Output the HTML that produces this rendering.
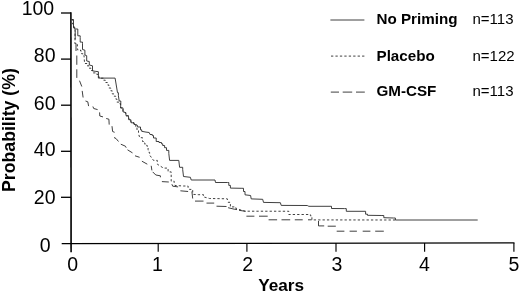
<!DOCTYPE html>
<html><head><meta charset="utf-8"><title>Probability vs Years</title>
<style>
html,body{margin:0;padding:0;background:#fff;}
body{width:520px;height:293px;position:relative;overflow:hidden;font-family:"Liberation Sans",Arial,sans-serif;color:#000;}
.t{position:absolute;white-space:nowrap;line-height:1;}
.yl{font-size:19.5px;text-align:right;width:60px;left:-4.5px;}
.xl{font-size:19.5px;text-align:center;width:40px;}
.lg{font-size:15.2px;font-weight:bold;left:376.5px;}
.n{font-size:15px;left:472.5px;}
</style></head><body>
<svg width="520" height="293" viewBox="0 0 520 293" style="position:absolute;left:0;top:0">
<g stroke="#000" stroke-width="1.3" fill="none" shape-rendering="auto">
<path d="M70.9,12.3 L71.1,252.2" stroke-width="1.6"/>
<path d="M61.7,243.6 L514.5,242.95"/>
<path d="M158.2,243 V251.8" stroke-width="1.15"/>
<path d="M246.9,243 V251.8" stroke-width="1.15"/>
<path d="M336,243 V251.8" stroke-width="1.15"/>
<path d="M424.6,243 V251.8" stroke-width="1.15"/>
<path d="M513.9,243 V251.8" stroke-width="1.15"/>
<path d="M61,13 H71"/>
<path d="M61,59.1 H71"/>
<path d="M61,105.2 H71"/>
<path d="M61,151.3 H71"/>
<path d="M61,197.3 H71"/>
</g>
<g stroke="#2a2a2a" stroke-width="0.9" fill="none" stroke-linejoin="miter">
<polyline points="71.5,19.5 73.5,19.5 73.5,27 74.7,27 74.7,29 77.8,29 77.8,30 77.8,35.8 80.2,35.8 80.2,37.4 80.2,42.1 82.5,42.1 82.5,43.7 82.5,49.5 84.9,50.2 84.9,55 86.7,55.7 86.7,61 89.3,61.5 89.3,65 92.5,65.8 92.5,70.9 95.2,71.3 98.4,71.7 98.4,78.1 115.1,78.1 117.5,92.7 118.4,92.7 118.4,95.8 119.2,101 120.8,101 120.8,102.1 120.6,107.9 123,107.9 123,109.1 123,111.8 125.7,112.6 126.1,115.8 128.5,115.8 128.5,116.9 128.9,119.7 130.8,119.7 130.8,120.9 131.2,122.8 134,122.8 134,124.4 137.1,125 137.8,127 140.5,127 140.5,129.8 141.7,129.8 141.7,131.3 146,132.1 149.2,132.5 150,134.5 152.3,134.5 152.3,135.6 153.5,135.6 153.5,138 156.2,138 156.2,141.5 159,141.5 159,142.5 161.5,142.5 161.5,143.8 162.7,143.8 162.7,145.5 164.6,145.5 164.6,147.7 166.5,147.7 166.5,150.4 168.8,150.4 168.8,153.5 169.6,160.4 178.8,160.4 179.6,167.3 182.7,167.3 182.7,169.6 183.5,176.5 190.4,177.3 191.2,180 215,180 215.5,182.5 227.5,182.5 228.8,182.5 228.8,185.4 230.4,185.4 230.4,188.1 241.9,188.3 243.5,188.3 243.5,191.5 245,191.5 245,194.8 250.6,195.5 251.2,198.9 262.7,199.3 263.5,202.4 280.4,202.7 281.2,205.4 307.3,205.5 308.8,206.3 330,206.3 331.5,206.3 331.5,208.5 344.4,208.6 346.3,208.6 346.3,211.3 364,211.3 365.6,211.3 365.6,214.2 367.5,214.2 367.5,215.3 381.9,215.5 383.8,215.5 383.8,217.7 393.5,218 395.4,218 395.4,220 477.7,220"/>
<polyline points="71.5,19.5 72.6,19.5 72.6,24 73.6,24 73.6,28 75,28 75,30.4 75,40.5 74.7,43.3 77.4,43.3 77.4,44.5 77.4,49.8 80.5,49.8 80.5,51 81.7,51 81.7,53.8 84,53.8 84,55.7 84.6,63.5 87,63.5 87,65.8 89,65.8 89,68.2 91,68.2 91,70.5 92.9,70.5 92.9,72.9 96.8,72.9 96.8,74.4 98.4,74.4 98.4,77.2 100.2,77.2 100.2,78.2 103.7,78.2 103.7,80.2 105.3,80.2 105.3,82.5 107.3,82.5 107.3,84.9 108.8,84.9 108.8,88 110.8,88 110.8,90.8 112.2,90.8 112.2,93.9 114.1,93.9 114.1,96.2 115.7,96.2 115.7,99 116.9,99 116.9,102.1 119.6,102.1 119.6,103.7 120.6,103.7 120.6,107.9 123,107.9 123,109.1 123,111.8 125.7,112.6 126.1,115.8 128.5,115.8 128.5,116.9 128.9,119.7 130.8,119.7 130.8,120.9 131.2,122.8 134,122.8 134,124.4 135.8,124.4 135.8,126.6 137,126.6 137,130.2 138.5,130.2 138.5,132.3 139.2,136.4 140.8,136.4 140.8,137.7 142.5,137.7 142.5,141.5 143.8,141.5 143.8,143.1 145,143.1 145,145 146.9,145 146.9,146.2 148.1,146.2 148.1,149.6 148.6,152.3 149.6,152.3 149.6,155 153.5,160.4 157.3,160.4 157.3,164.2 163.5,168.1 168.1,168.1 168.1,171.9 171.2,171.9 171.2,175 171.2,181.2 174.2,181.2 174.2,182.7 175,185.5 183.5,186 188.1,186 188.1,188.8 189.6,189.4 192.7,189.4 192.7,193.1 193.5,194.4 198.8,194.7 203.5,194.7 203.5,196.9 209.6,198.5 227.3,198.8 228.1,202.3 230.4,202.3 230.4,206.9 235.8,206.9 235.8,208.5 241.9,210.3 245,211.2 288.75,211.25 288.75,214.5 308.75,214.5 310.4,214.5 310.4,215.8 311.9,215.8 311.9,219.9 395.4,220" stroke-dasharray="2.3 2.1"/>
<path d="M75.2,30.2 L75.2,39.4 M76,43.5 L76,51 M76.8,55.5 L76.8,64.8 M76.8,69.3 L76.8,77.9 M79.5,80.7 L81.8,86.5 M82.2,90.9 L83.1,97.5 M85.5,101 L87.8,101.8 L88.6,106.1 M92.9,106.5 L93.7,108.5 L97.6,109.6 M99.6,112.4 L99.8,116 L103,116.9 M106.2,118.5 L108.9,119.2 L109.2,124.6 M112,126.2 L112.6,131.5 L114.6,132.3 M114,137.5 L116,138.5 L118.5,141.5 M120.8,144.2 L125.4,146.2 L126.2,147.7 M127.5,149.8 L132.5,152.9 M135,155.8 L139.6,157.3 M141.9,161.2 L147.3,164.2 M151.2,165.8 L151.9,170.4 M152.7,171.9 L155.8,175 L160.4,175.8 L160.4,177.3 M161.9,181.6 L168.8,182 M171.9,184.2 L172.7,186.2 L178.1,186.9 M180.4,190.8 L188.1,191.5 M191.9,191.5 L192.7,198.5 M195,201.1 L203.5,201.1 M206.5,203.1 L214.2,203.1 M216.5,206.2 L226.5,206.5 M228.1,207.7 L234.2,209.2 L237,209.6 M239,210.3 L245.5,211.3 M246.4,216.2 L254.4,216.2 M259,216.2 L267.7,216.2 M268.6,219.8 L277.1,219.8 M281.5,219.8 L290.2,219.8 M294.8,219.8 L302.7,219.8 M308,219.8 L311.7,219.8 M318.5,221 L318.5,225.9 L324.2,225.9 M327.7,226.2 L335.8,226.2 M336.7,231.2 L344.4,231.2 M349.6,231.2 L356.9,231.2 M362.7,231.2 L370.4,231.2 M375.2,231.2 L383.8,231.2"/>
<path d="M330.4,20 H364.4"/>
<path d="M331,56.1 H364.6" stroke-dasharray="2.3 2.14"/>
<path d="M330.8,92.1 H339 M342.7,92.1 H352.2 M356,92.1 H364.8"/>
</g>
</svg>
<div class="t yl" style="top:-0.6px;left:-5.8px">100</div>
<div class="t yl" style="top:46.1px">80</div>
<div class="t yl" style="top:93.6px">60</div>
<div class="t yl" style="top:140.2px">40</div>
<div class="t yl" style="top:187.7px">20</div>
<div class="t yl" style="top:236px;left:-9.5px">0</div>
<div class="t xl" style="left:52.8px;top:255px">0</div>
<div class="t xl" style="left:137.5px;top:255px">1</div>
<div class="t xl" style="left:227.8px;top:255px">2</div>
<div class="t xl" style="left:317px;top:255px">3</div>
<div class="t xl" style="left:404.5px;top:255px">4</div>
<div class="t xl" style="left:494px;top:255px">5</div>
<div class="t" style="font-size:17.2px;font-weight:bold;left:258.2px;top:276.5px">Years</div>
<div class="t" style="font-size:17.7px;font-weight:bold;left:0;top:0;transform-origin:0 0;transform:translate(1px,192px) rotate(-90deg)">Probability (%)</div>
<div class="t lg" style="top:11px">No Priming</div>
<div class="t lg" style="top:47.5px">Placebo</div>
<div class="t lg" style="top:83px">GM-CSF</div>
<div class="t n" style="top:11px">n=113</div>
<div class="t n" style="top:47.5px">n=122</div>
<div class="t n" style="top:83px">n=113</div>
</body></html>
